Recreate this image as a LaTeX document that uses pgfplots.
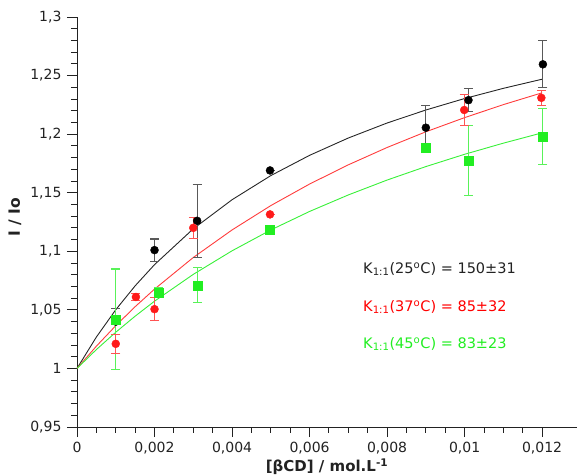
\documentclass[border=0pt]{standalone}
\usepackage{pgfplots}
\pgfplotsset{compat=1.18}
\usepackage{fontspec}
\setmainfont{DejaVu Sans}
\definecolor{txt}{HTML}{222222}
\definecolor{cgreen}{HTML}{22EE22}
\definecolor{cred}{HTML}{FF1A1A}

\begin{document}
\begin{tikzpicture}
\begin{axis}[
  name=ax,
  scale only axis,
  width=500pt, height=410pt,
  xmin=0, xmax=0.0129,
  ymin=0.95, ymax=1.3,
  axis x line=bottom, axis y line=left,
  axis line style={-, line width=0.9pt, color=txt},
  tick align=outside,
  xtick={0,0.002,0.004,0.006,0.008,0.01,0.012},
  ytick={0.95,1,1.05,1.1,1.15,1.2,1.25,1.3},
  minor x tick num=3,
  minor y tick num=4,
  major tick length=10pt, minor tick length=6pt,
  tick style={line width=0.9pt, color=txt},
  scaled x ticks=false, scaled y ticks=false,
  /pgf/number format/.cd, use comma, fixed, precision=3, assume math mode=true,
  /pgfplots/.cd,
  ticklabel style={font=\fontsize{14}{16}\selectfont, text=txt},
  xticklabel style={yshift=-2pt},
  yticklabel style={xshift=-2pt},
  xlabel={\textbf{[βCD] / mol.L\textsuperscript{-1}}},
  ylabel={\textbf{I / Io}},
  every axis x label/.style={at={(axis description cs:0.5,-0.096)}, anchor=center, font=\fontsize{15}{17}\selectfont, text=txt},
  every axis y label/.style={at={(axis description cs:-0.124,0.512)}, rotate=90, anchor=center, font=\fontsize{15.5}{17}\selectfont, text=txt},
  clip=false,
]
% fitted curves
\addplot[black!85, line width=0.9pt] coordinates {
 (0,1) (0.0005,1.0268) (0.001,1.0501) (0.0015,1.0705) (0.002,1.0886)
 (0.003,1.1192) (0.004,1.1440) (0.005,1.1646) (0.006,1.1819) (0.007,1.1967)
 (0.008,1.2095) (0.009,1.2206) (0.010,1.2304) (0.011,1.2391) (0.012,1.2469)};
\addplot[cred!85, line width=0.9pt] coordinates {
 (0,1) (0.0005,1.0190) (0.001,1.0365) (0.0015,1.0527) (0.002,1.0677)
 (0.003,1.0947) (0.004,1.1182) (0.005,1.1390) (0.006,1.1574) (0.007,1.1738)
 (0.008,1.1886) (0.009,1.2020) (0.010,1.2141) (0.011,1.2252) (0.012,1.2353)};
\addplot[cgreen!90, line width=0.9pt] coordinates {
 (0,1) (0.0005,1.0161) (0.001,1.0309) (0.0015,1.0446) (0.002,1.0574)
 (0.003,1.0803) (0.004,1.1004) (0.005,1.1182) (0.006,1.1340) (0.007,1.1481)
 (0.008,1.1608) (0.009,1.1723) (0.010,1.1828) (0.011,1.1923) (0.012,1.2011)};
% data 25 C
\addplot[only marks, mark=*, mark size=4pt, black,
  error bars/.cd, y dir=both, y explicit,
  error bar style={black!65, line width=1.2pt},
  error mark options={rotate=90, mark size=4.5pt, black!65, line width=1.2pt}]
 coordinates {
 (0.001,1.040) +- (0,0.011)
 (0.002,1.101) +- (0,0.0095)
 (0.0031,1.126) +- (0,0.031)
 (0.00498,1.169) +- (0,0)
 (0.0090,1.2055) +- (0,0.019)
 (0.0101,1.229) +- (0,0.0098)
 (0.01202,1.2596) +- (0,0.020)};
% data 45 C
\addplot[only marks, mark=square*, mark size=4.5pt, cgreen,
  error bars/.cd, y dir=both, y explicit,
  error bar style={cgreen!75, line width=1.2pt},
  error mark options={rotate=90, mark size=4.5pt, cgreen!75, line width=1.2pt}]
 coordinates {
 (0.001,1.0418) +- (0,0.043)
 (0.0021,1.0646) +- (0,0.004)
 (0.00311,1.071) +- (0,0.015)
 (0.00498,1.1187) +- (0,0)
 (0.0090,1.188) +- (0,0.002)
 (0.0101,1.1773) +- (0,0.030)
 (0.01202,1.198) +- (0,0.024)};
% data 37 C
\addplot[only marks, mark=*, mark size=4pt, cred,
  error bars/.cd, y dir=both, y explicit,
  error bar style={cred!75, line width=1.2pt},
  error mark options={rotate=90, mark size=4.5pt, cred!75, line width=1.2pt}]
 coordinates {
 (0.001,1.021) +- (0,0.008)
 (0.00152,1.061) +- (0,0.003)
 (0.002,1.0506) +- (0,0.010)
 (0.003,1.120) +- (0,0.009)
 (0.00498,1.1315) +- (0,0)
 (0.00999,1.2206) +- (0,0.013)
 (0.01198,1.231) +- (0,0.0065)};
\node[anchor=west, text=txt, font=\fontsize{14.5}{17}\selectfont, inner sep=0pt] at (axis cs:0.00738,1.0848) {K\textsubscript{1:1}(25\textsuperscript{o}C) = 150±31};
\node[anchor=west, text=red, font=\fontsize{14.5}{17}\selectfont, inner sep=0pt] at (axis cs:0.00738,1.0524) {K\textsubscript{1:1}(37\textsuperscript{o}C) = 85±32};
\node[anchor=west, text=cgreen, font=\fontsize{14.5}{17}\selectfont, inner sep=0pt] at (axis cs:0.00738,1.0207) {K\textsubscript{1:1}(45\textsuperscript{o}C) = 83±23};
\end{axis}
\pgfresetboundingbox
\useasboundingbox ([xshift=-77pt,yshift=-49pt]ax.south west) rectangle ([xshift=1pt,yshift=17pt]ax.north east);
\end{tikzpicture}
\end{document}
